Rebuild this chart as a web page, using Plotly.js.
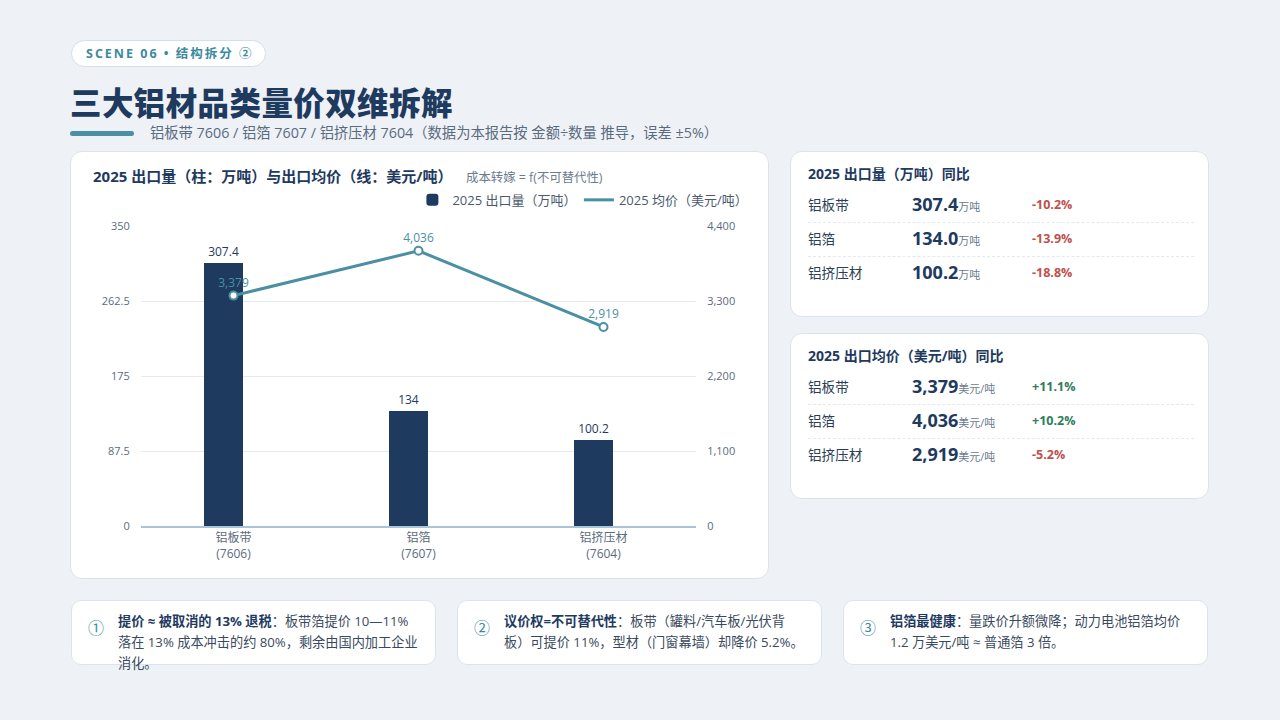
<!DOCTYPE html>
<html><head><meta charset="utf-8">
<script src="https://cdn.plot.ly/plotly-3.0.1.min.js"></script>
<style>
*{box-sizing:border-box;margin:0;padding:0}
body{width:1280px;height:720px;background:#eef2f7;font-family:"Open Sans","Noto Sans CJK SC",sans-serif;position:relative;overflow:hidden;color:#1e3a5f}
.abs{position:absolute}
.card{position:absolute;background:#fff;border:1px solid #dbe4ee;border-radius:12px}
.pill{left:71px;top:40px;width:195px;height:27px;background:#fff;border:1px solid #d3dfea;border-radius:14px;font-size:12.5px;font-weight:700;color:#3d8a9e;letter-spacing:2px;line-height:25px;padding-left:14px;white-space:nowrap}
h1{position:absolute;left:70px;top:78px;font-size:31.5px;font-weight:900;color:#1e3a5f;letter-spacing:0.4px;font-family:"Noto Sans CJK SC",sans-serif}
.bar{left:70px;top:131px;width:64px;height:5px;background:#4a8fa3;border-radius:3px}
.sub{left:150px;top:121px;font-size:14.3px;color:#5b6b7e;white-space:nowrap}
.ctitle{font-size:14px;font-weight:700;color:#1e3a5f;white-space:nowrap}
.row{position:absolute;left:17px;width:386px;height:34px}
.lab{position:absolute;left:0;font-size:13.6px;color:#2c3e55;white-space:nowrap}
.val{position:absolute;left:104px;font-size:18px;font-weight:700;color:#1e3a5f;white-space:nowrap}
.val small{font-size:11px;font-weight:400;color:#6b7a8c}
.pct{position:absolute;left:224px;font-size:12.5px;font-weight:700;white-space:nowrap}
.sep{position:absolute;left:17px;width:386px;border-top:1px dashed #e3e9f0}
.neg{color:#c0504d}.pos{color:#2e7d5b}
.note{position:absolute;top:600px;height:65px;width:365px;background:#fff;border:1px solid #dbe4ee;border-radius:10px}
.num{position:absolute;left:16px;top:14px;font-size:16px;color:#3d8a9e}
.ntext{position:absolute;left:46px;top:10px;width:310px;font-size:13.2px;line-height:21px;color:#3a4a5e;white-space:nowrap}
.ntext b{color:#1e3a5f}
</style></head><body>
<div class="abs pill">SCENE 06 • 结构拆分 ②</div>
<h1>三大铝材品类量价双维拆解</h1>
<div class="abs bar"></div>
<div class="abs sub">铝板带 7606 / 铝箔 7607 / 铝挤压材 7604（数据为本报告按 金额÷数量 推导，误差 ±5%）</div>

<div class="card" style="left:70px;top:151px;width:699px;height:428px"></div>
<div class="abs ctitle" style="left:93px;top:165px;font-size:15px">2025 出口量（柱：万吨）与出口均价（线：美元/吨）</div>
<div class="abs" style="left:466px;top:168px;font-size:12.4px;color:#6b7a8c;white-space:nowrap">成本转嫁 = f(不可替代性)</div>
<div id="chart" class="abs" style="left:70px;top:151px;width:699px;height:428px"></div>

<div class="card" style="left:790px;top:151px;width:419px;height:166px">
  <div class="abs ctitle" style="left:17px;top:11px">2025 出口量（万吨）同比</div>
  <div class="row" style="top:40px"><span class="lab" style="top:2px">铝板带</span><span class="val">307.4<small>万吨</small></span><span class="pct neg" style="top:4px">-10.2%</span></div>
  <div class="sep" style="top:70px"></div>
  <div class="row" style="top:74px"><span class="lab" style="top:2px">铝箔</span><span class="val">134.0<small>万吨</small></span><span class="pct neg" style="top:4px">-13.9%</span></div>
  <div class="sep" style="top:104px"></div>
  <div class="row" style="top:108px"><span class="lab" style="top:2px">铝挤压材</span><span class="val">100.2<small>万吨</small></span><span class="pct neg" style="top:4px">-18.8%</span></div>
</div>

<div class="card" style="left:790px;top:333px;width:419px;height:166px">
  <div class="abs ctitle" style="left:17px;top:11px">2025 出口均价（美元/吨）同比</div>
  <div class="row" style="top:40px"><span class="lab" style="top:2px">铝板带</span><span class="val">3,379<small>美元/吨</small></span><span class="pct pos" style="top:4px">+11.1%</span></div>
  <div class="sep" style="top:70px"></div>
  <div class="row" style="top:74px"><span class="lab" style="top:2px">铝箔</span><span class="val">4,036<small>美元/吨</small></span><span class="pct pos" style="top:4px">+10.2%</span></div>
  <div class="sep" style="top:104px"></div>
  <div class="row" style="top:108px"><span class="lab" style="top:2px">铝挤压材</span><span class="val">2,919<small>美元/吨</small></span><span class="pct neg" style="top:4px">-5.2%</span></div>
</div>

<div class="note" style="left:71px"><span class="num">①</span><div class="ntext"><b>提价 ≈ 被取消的 13% 退税</b>：板带箔提价 10—11%<br>落在 13% 成本冲击的约 80%，剩余由国内加工企业<br>消化。</div></div>
<div class="note" style="left:457px"><span class="num">②</span><div class="ntext"><b>议价权=不可替代性</b>：板带（罐料/汽车板/光伏背<br>板）可提价 11%，型材（门窗幕墙）却降价 5.2%。</div></div>
<div class="note" style="left:843px"><span class="num">③</span><div class="ntext"><b>铝箔最健康</b>：量跌价升额微降；动力电池铝箔均价<br>1.2 万美元/吨 ≈ 普通箔 3 倍。</div></div>

<script>
const categories = ["铝板带<br>(7606)", "铝箔<br>(7607)", "铝挤压材<br>(7604)"];
const volume2025 = [307.4, 134, 100.2];
const price2025 = [3379, 4036, 2919];
const leftTicks = [0, 87.5, 175, 262.5, 350];
const rightTicks = [0, 1100, 2200, 3300, 4400];
const seriesNames = ['2025 出口量（万吨）', '2025 均价（美元/吨）'];

const font = {family: '"Open Sans","Noto Sans CJK SC",sans-serif'};
const lineColor = '#4a8fa3';
const traces = [
  {type:'bar', name:seriesNames[0], x:categories, y:volume2025, legend:'legend',
   width:0.216, offset:-0.162,
   marker:{color:'#1e3a5f', cornerradius:2},
   text:volume2025.map(v=>String(v)), textposition:'outside', cliponaxis:false,
   textfont:{color:'#1e3a5f', size:12, family:font.family}, hoverinfo:'skip'},
  {type:'scatter', mode:'lines+markers+text', name:seriesNames[1], x:categories, y:price2025, yaxis:'y2',
   showlegend:false,
   line:{color:lineColor, width:3},
   marker:{size:8, color:'#ffffff', line:{color:lineColor, width:2}},
   text:price2025.map(v=>v.toLocaleString('en-US')), textposition:'top center', cliponaxis:false,
   textfont:{color:'#4a90a4', size:12, family:font.family}, hoverinfo:'skip'},
  // legend entry for the line series (line only, like the reference legend)
  {type:'scatter', mode:'lines', name:seriesNames[1], x:[null], y:[null], yaxis:'y2', legend:'legend2',
   line:{color:lineColor, width:3}, hoverinfo:'skip'}
];
const legendCommon = {orientation:'h', xanchor:'left', y:1.087, yanchor:'middle',
          font:{size:13, color:'#4a5a6e'}, bgcolor:'rgba(0,0,0,0)'};
const layout = {
  width:699, height:428,
  margin:{l:71, r:73, t:75, b:53},
  paper_bgcolor:'rgba(0,0,0,0)', plot_bgcolor:'rgba(0,0,0,0)',
  font:{family:font.family, color:'#5b6b7e', size:11},
  showlegend:true,
  legend:Object.assign({}, legendCommon, {x:0.489}),
  legend2:Object.assign({}, legendCommon, {x:0.789}),
  xaxis:{tickfont:{size:12, color:'#5b6b7e'}, showline:true, linecolor:'#a9c4d6', linewidth:1.5,
         showgrid:false, ticks:'', fixedrange:true},
  yaxis:{range:[0,350], tickvals:leftTicks, ticktext:leftTicks.map(String), gridcolor:'#e4eaf1', gridwidth:1,
         zeroline:false, tickfont:{size:11, color:'#5b6b7e'}, ticklen:8, ticks:'outside', tickcolor:'rgba(0,0,0,0)'},
  yaxis2:{range:[0,4400], tickvals:rightTicks, ticktext:rightTicks.map(v=>v.toLocaleString('en-US')), overlaying:'y', side:'right',
          showgrid:false, zeroline:false, tickfont:{size:11, color:'#5b6b7e'}, ticklen:8, ticks:'outside', tickcolor:'rgba(0,0,0,0)'},
  bargap:0
};
Plotly.newPlot('chart', traces, layout, {displayModeBar:false, staticPlot:true});
</script>
</body></html>
